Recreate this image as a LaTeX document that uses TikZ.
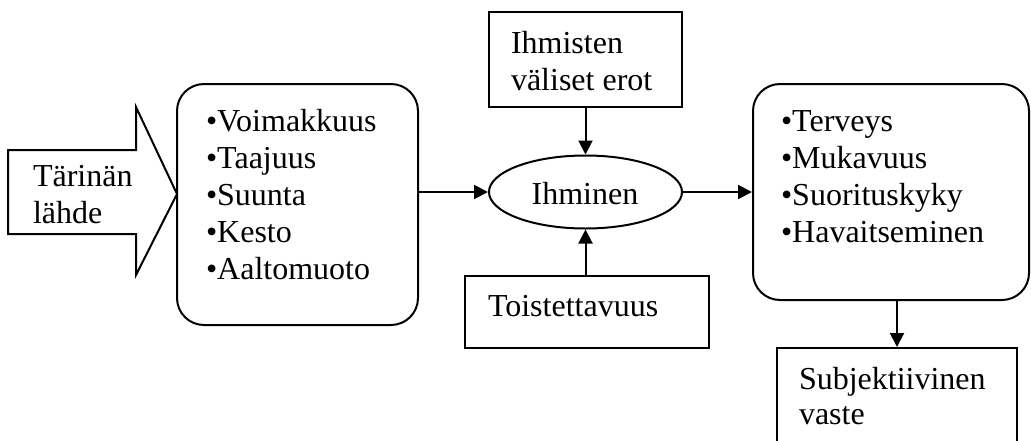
\documentclass[tikz,border=0pt]{standalone}
\usepackage{fontspec}
\setmainfont{Liberation Serif}
\usetikzlibrary{arrows.meta,shapes.geometric}
\begin{document}
\begin{tikzpicture}[x=1pt,y=-1pt,
  line width=2pt,
  box/.style={draw, rectangle, minimum width=#1, inner sep=0pt},
  rbox/.style={draw, rectangle, rounded corners=27pt, inner sep=0pt},
  txt/.style={font=\fontsize{32}{37}\selectfont, inner sep=0pt, align=left, anchor=north west},
  conn/.style={-{Triangle[length=14pt,width=14pt]}, line width=2pt}]
\useasboundingbox (0,0) rectangle (1031,440);
% big arrow
\draw[line join=miter] (8,150) -- (136,150) -- (136,107) -- (177,194) -- (136,275) -- (136,234) -- (8,234) -- cycle;
\node[txt] (src) at (32,185-25.9) {\strut Tärinän\\\strut lähde};
% boxes
\node[rbox, minimum width=241pt, minimum height=241pt] (lbox) at (297.5,204.5) {};
\node[txt] (ltxt) at (205,130-25.9) {\strut •Voimakkuus\\\strut •Taajuus\\\strut •Suunta\\\strut •Kesto\\\strut •Aaltomuoto};
\node[rbox, minimum width=276pt, minimum height=216pt] (rbox) at (891,192) {};
\node[txt] (rtxt) at (780,130-25.9) {\strut •Terveys\\\strut •Mukavuus\\\strut •Suorituskyky\\\strut •Havaitseminen};
\node[box=193pt, minimum height=95pt] (top) at (585.5,59.5) {};
\node[txt] (toptxt) at (510,52-25.9) {\strut Ihmisten\\\strut väliset erot};
\node[box=244pt, minimum height=72pt] (bot) at (587,312) {};
\node[txt] (bottxt) at (487,315-25.9) {\strut Toistettavuus};
\node[draw, ellipse, minimum width=193pt, minimum height=73pt, inner sep=0pt] (ell) at (585.5,192) {};
\node[font=\fontsize{32}{37}\selectfont, inner sep=0pt, anchor=base] (elltxt) at (585,204) {Ihminen};
\node[box=240pt, minimum height=100pt] (subj) at (897,398) {};
\node[txt, font=\fontsize{32}{35}\selectfont] (subjtxt) at (798,390-25.9) {\strut Subjektiivinen\\\strut vaste};
% connectors
\draw[conn] (ell.west -| lbox.east) -- (ell.west);
\draw[conn] (ell.east) -- (ell.east -| rbox.west);
\draw[conn] (top.south) -- (ell.north);
\draw[conn] (ell.south |- bot.north) -- (ell.south);
\draw[conn] (subj.north |- rbox.south) -- (subj.north);
\end{tikzpicture}
\end{document}
